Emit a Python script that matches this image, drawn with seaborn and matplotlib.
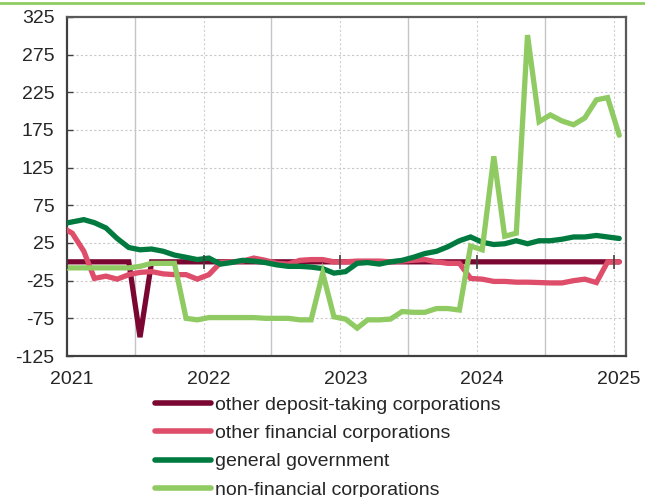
import numpy as np
import pandas as pd
import matplotlib
matplotlib.use("Agg")
import matplotlib.pyplot as plt
import matplotlib.transforms as mtransforms
from matplotlib.lines import Line2D
import seaborn as sns

# monthly observations, Dec 2020 .. Jan 2025 (plotted mid-month)
dates = pd.date_range("2020-12-01", periods=50, freq="MS") + pd.Timedelta(days=14)

other_deposit_taking = [0, 0, 0, 0, 0, 0, 0, -100, 0, 0, 0,
                        0, 0, 0, 0, 0, 0, 0, 0, 0, 0,
                        0, 0, 0, 0, 0, 0, 0, 0, 0, 0,
                        0, 0, 0, 0, 0, 0, 0, 0, 0, 0,
                        0, 0, 0, 0, 0, 0, 0, 0, 0]
other_financial = [47, 38, 14, -22, -19, -23, -17, -14, -13, -16, -17,
                   -17, -23, -17, -1, 0, 1, 5, 2, -2, -3,
                   2, 3, 3, 0, 0, 1, 1, 1, 0, 1,
                   2, 3, 0, -2, -2, -22, -23, -26, -26, -27,
                   -27, -27.5, -28, -28, -25, -23, -27.5, 0, 0]
general_government = [50, 53, 56, 52, 45, 31, 19, 16, 17, 14, 9,
                      6, 3, 5, -3, -1, 2, 1, -1, -4, -6,
                      -6, -7, -9, -15, -13, -2, -1, -3, 0, 2,
                      6, 11, 14, 20, 28, 33, 26, 23, 24, 28,
                      24, 28, 28, 30, 33, 33, 35, 33, 31]
non_financial = [-8, -8, -8, -8, -8, -8, -8, -6, -2, -2, -2,
                 -75, -77, -74, -74, -74, -74, -74, -75, -75, -75,
                 -77, -77, -15, -73, -76, -88, -77, -77, -76, -66,
                 -67, -67, -62, -62, -64, 21, 16, 140, 34, 38,
                 301, 186, 195, 187, 182, 191, 215, 218, 168]

series_names = ["other deposit-taking corporations", "other financial corporations",
                "general government", "non-financial corporations"]
series_values = [other_deposit_taking, other_financial, general_government, non_financial]
series_colors = ["#7A0632", "#DE4D6A", "#007A3F", "#8FCB62"]

year_ticks = pd.to_datetime(["2021-01-01", "2022-01-01", "2023-01-01", "2024-01-01", "2025-01-01"])
mid_years = pd.to_datetime(["2021-07-01", "2022-07-01", "2023-07-01", "2024-07-01"])
year_labels = ["2021", "2022", "2023", "2024", "2025"]
y_ticks = np.arange(-125, 326, 50)

sns.set_theme(style="white")
plt.rcParams["font.family"] = ["Liberation Sans", "DejaVu Sans"]
plt.rcParams["axes.unicode_minus"] = False

fig = plt.figure(figsize=(6.45, 4.97), dpi=100)
ax = fig.add_axes([0.1039, 0.2837, 0.8666, 0.6821])

# grid
for y in y_ticks[1:-1]:
    ax.axhline(y, color="#C8C8C8", lw=0.8, ls=(0, (2, 2)), zorder=0)
for d in mid_years:
    ax.axvline(d, color="#C2C6CB", lw=1.0, zorder=0)
for d in year_ticks[1:]:
    ax.axvline(d, color="#CFCFCF", lw=0.8, ls=(0, (2, 2)), zorder=0)

for name, vals, col in zip(series_names, series_values, series_colors):
    sns.lineplot(x=dates, y=vals, ax=ax, color=col, lw=3.8, label=name,
                 solid_joinstyle="miter", zorder=3)

# category axis ticks crossing at zero
ax.plot(year_ticks, np.zeros(len(year_ticks)), ls="none", marker="|",
        ms=10, mew=1.2, color="#404040", zorder=4, clip_on=False)

ax.set_xlim(pd.Timestamp("2021-01-01"), pd.Timestamp("2025-02-02"))
ax.set_ylim(-125, 325)
ax.set_yticks(y_ticks)
ax.set_xticks(year_ticks)
ax.set_xticklabels(year_labels)
ax.tick_params(axis="y", direction="in", length=4, width=1, color="#404040",
               labelsize=14, pad=9, left=True)
ax.tick_params(axis="x", length=0, labelsize=14, pad=11)
shift = mtransforms.ScaledTranslation(0.05, 0, fig.dpi_scale_trans)
for lab in ax.get_xticklabels():
    lab.set_transform(lab.get_transform() + shift)
ax.set_xlabel("")
ax.set_ylabel("")
for s in ax.spines.values():
    s.set_color("#595959")
    s.set_linewidth(1.6)
ax.spines["left"].set_color("#404040")
ax.spines["bottom"].set_color("#404040")

ax.get_legend().remove()
handles = [Line2D([0], [0], color=c, lw=4) for c in series_colors]
fig.legend(handles, series_names, loc="upper left", bbox_to_anchor=(0.240, 0.203),
           frameon=False, fontsize=14, handlelength=2.9, handletextpad=0.2,
           labelspacing=0.55, borderpad=0, borderaxespad=0)

# green rule at the top of the panel
fig.add_artist(Line2D([0, 1], [0.994, 0.994], transform=fig.transFigure,
                      color="#8FCB62", lw=2))

fig.savefig("out.png", dpi=100)
